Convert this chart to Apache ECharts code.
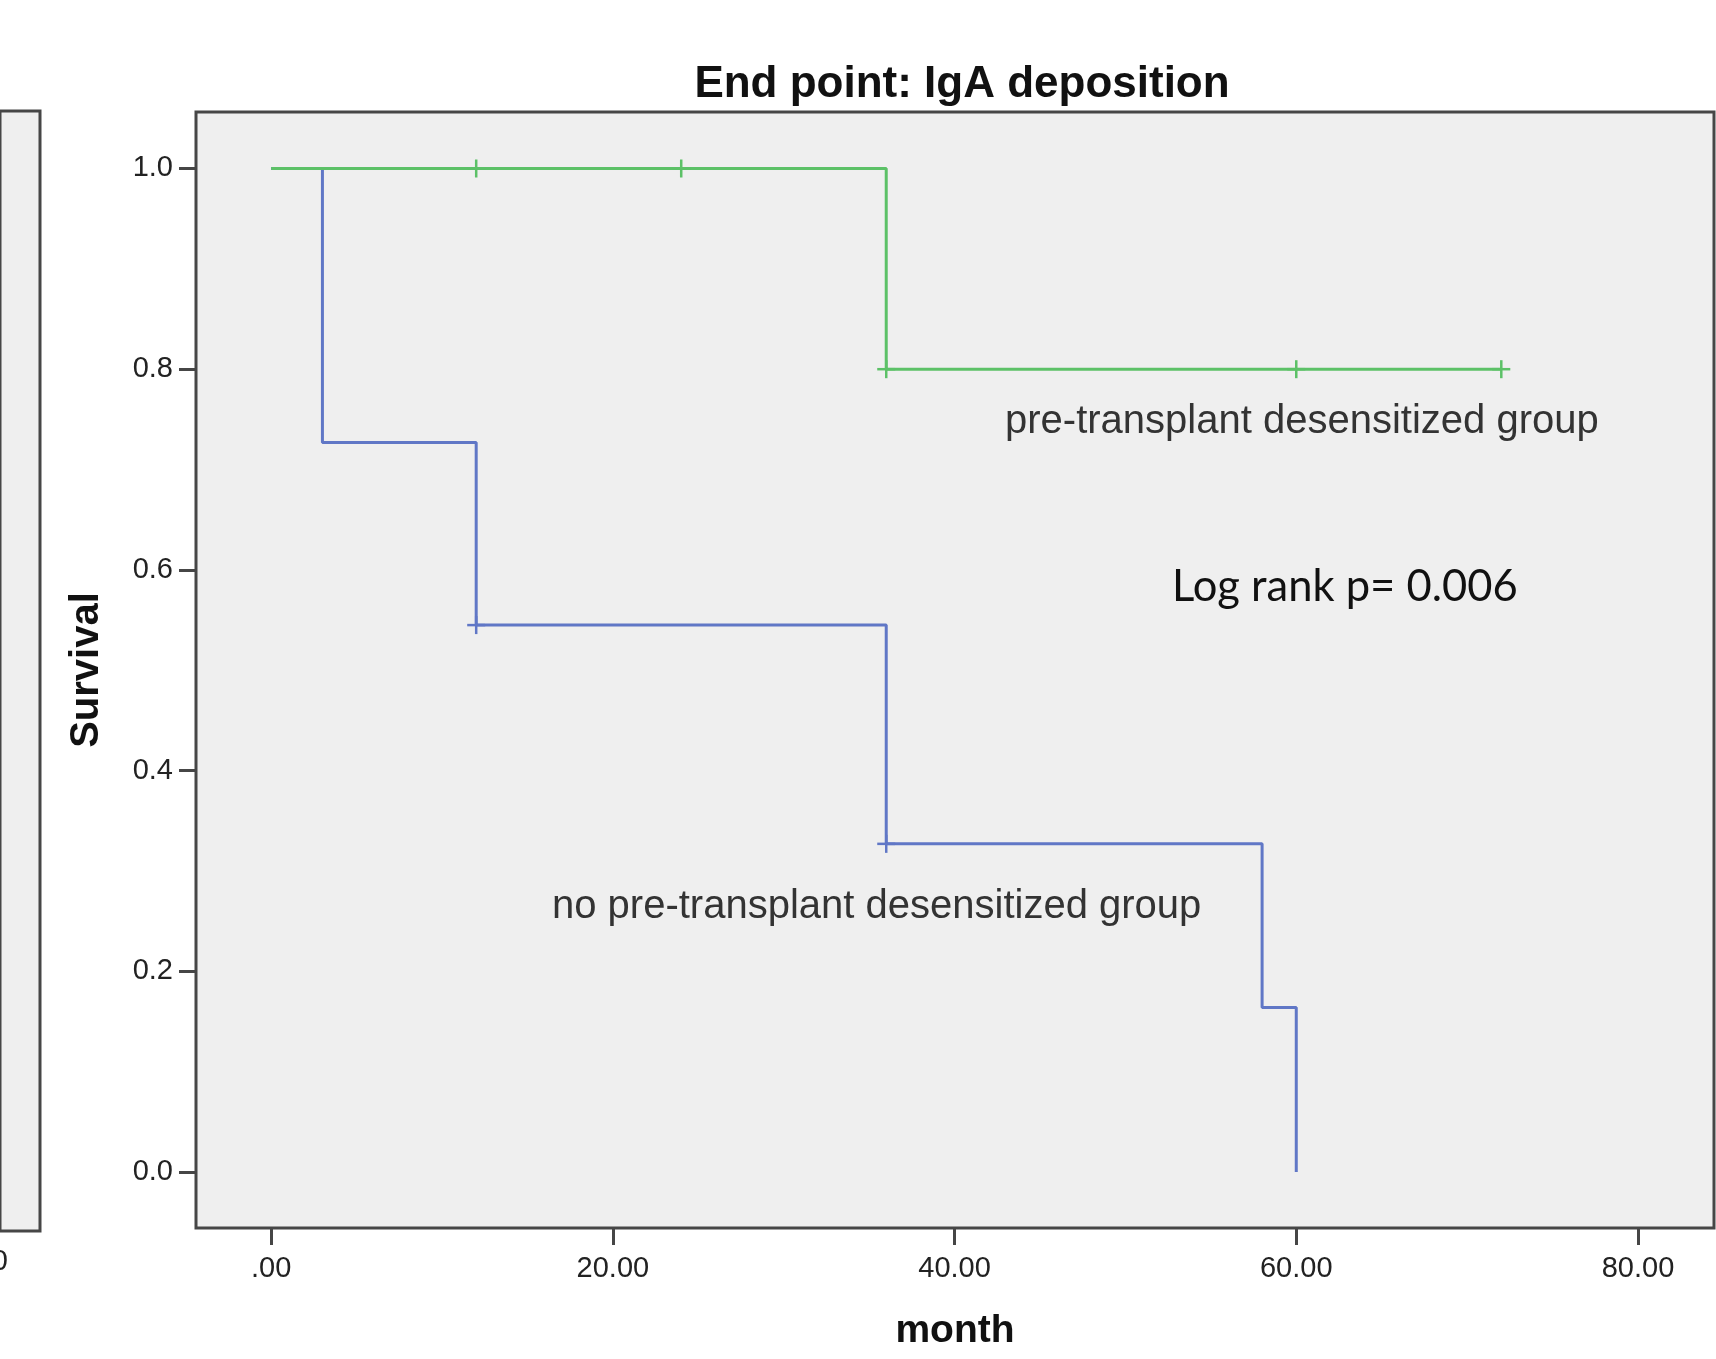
<!DOCTYPE html>
<html>
<head>
<meta charset="utf-8">
<title>End point: IgA deposition</title>
<script src="https://cdn.jsdelivr.net/npm/echarts@6/dist/echarts.min.js"></script>
<style>
    html, body { margin: 0; padding: 0; background: #fff; }
    #main { width: 1716px; height: 1359px; }
</style>
</head>
<body>
<div id="main"></div>
<script>
// Kaplan-Meier steps
var desensTimes = [0, 36, 72];
var desensSurv = [1.0, 0.8, 0.8];
var noDesensTimes = [0, 3, 12, 36, 58, 60];
var noDesensSurv = [1.0, 0.727, 0.545, 0.327, 0.164, 0.0];

// censored cases (the little + marks)
var desensCensorTimes = [12, 24, 36, 60, 72];
var desensCensorSurv = [1.0, 1.0, 0.8, 0.8, 0.8];
var noDesensCensorTimes = [12, 36];
var noDesensCensorSurv = [0.545, 0.327];

var xTicks = [0, 20, 40, 60, 80];
var yTicks = [0, 0.2, 0.4, 0.6, 0.8, 1.0];

var green = '#5cc167';
var blue = '#6077c6';
var frame = '#464646';

function zip(a, b) {
    var out = [];
    for (var i = 0; i < a.length; i++) out.push([a[i], b[i]]);
    return out;
}

function censorMarks(color) {
    return function (params, api) {
        var p = api.coord([api.value(0), api.value(1)]);
        var h = 9;
        return {
            type: 'group',
            children: [
                {type: 'line', shape: {x1: p[0], y1: p[1] - h, x2: p[0], y2: p[1] + h},
                    style: {stroke: color, lineWidth: 2.5}},
                {type: 'line', shape: {x1: p[0] - h, y1: p[1], x2: p[0] + h, y2: p[1]},
                    style: {stroke: color, lineWidth: 2.5}}
            ]
        };
    };
}

var myChart = echarts.init(document.getElementById('main'));
var option = {
    backgroundColor: '#ffffff',
    animation: false,
    title: {
        text: 'End point: IgA deposition',
        left: 957,
        top: 57,
        textAlign: 'center',
        textStyle: {
            fontFamily: 'Liberation Sans',
            fontWeight: 'bold',
            fontSize: 44,
            lineHeight: 46,
            color: '#111'
        }
    },
    grid: [
        {
            left: 196, top: 112, right: 2, bottom: 131,
            show: true,
            backgroundColor: '#efefef',
            borderColor: frame,
            borderWidth: 3
        },
        {
            // edge of the neighbouring panel, cut off by the picture
            left: -100, top: 111, width: 140, height: 1120,
            show: true,
            backgroundColor: '#efefef',
            borderColor: frame,
            borderWidth: 3
        }
    ],
    xAxis: [
        {
            type: 'value',
            gridIndex: 0,
            min: -4.4,
            max: 84.45,
            name: 'month',
            nameLocation: 'middle',
            nameGap: 84,
            nameTextStyle: {
                fontFamily: 'Liberation Sans',
                fontWeight: 'bold',
                fontSize: 39,
                color: '#111'
            },
            splitLine: {show: false},
            axisLine: {show: false, onZero: false},
            axisTick: {
                show: true,
                length: 17,
                customValues: xTicks,
                lineStyle: {color: frame, width: 3}
            },
            axisLabel: {
                customValues: xTicks,
                margin: 26,
                fontFamily: 'Liberation Sans',
                fontSize: 29,
                color: '#222',
                formatter: function (v) {
                    return v === 0 ? '.00' : v.toFixed(2);
                }
            }
        },
        {
            type: 'value', gridIndex: 1, show: false
        }
    ],
    yAxis: [
        {
            type: 'value',
            gridIndex: 0,
            min: -0.0558,
            max: 1.0563,
            name: 'Survival',
            nameLocation: 'middle',
            nameGap: 89,
            nameTextStyle: {
                fontFamily: 'Liberation Sans',
                fontWeight: 'bold',
                fontSize: 40,
                color: '#111'
            },
            splitLine: {show: false},
            axisLine: {show: false, onZero: false},
            axisTick: {
                show: true,
                length: 17,
                customValues: yTicks,
                lineStyle: {color: frame, width: 3}
            },
            axisLabel: {
                customValues: yTicks,
                margin: 23,
                fontFamily: 'Liberation Sans',
                fontSize: 29,
                color: '#222',
                formatter: function (v) {
                    return v.toFixed(1);
                }
            }
        },
        {
            type: 'value', gridIndex: 1, show: false
        }
    ],
    graphic: [
        {
            type: 'text',
            left: 1005, top: 402,
            style: {
                text: 'pre-transplant desensitized group',
                font: '40px "Liberation Sans"',
                fill: '#333'
            }
        },
        {
            type: 'text',
            left: 552, top: 887,
            style: {
                text: 'no pre-transplant desensitized group',
                font: '40px "Liberation Sans"',
                fill: '#333'
            }
        },
        {
            type: 'text',
            left: 1172, top: 565,
            style: {
                text: 'Log rank p= 0.006',
                font: '43.5px Lato',
                fill: '#111'
            }
        },
        {
            type: 'text',
            x: 8, y: 1262,
            style: {
                text: '80.00',
                font: '29px "Liberation Sans"',
                fill: '#222',
                align: 'right',
                verticalAlign: 'middle'
            }
        }
    ],
    series: [
        {
            name: 'no pre-transplant desensitized group',
            type: 'line',
            step: 'end',
            showSymbol: false,
            lineStyle: {color: blue, width: 3},
            data: zip(noDesensTimes, noDesensSurv),
            z: 2
        },
        {
            name: 'pre-transplant desensitized group',
            type: 'line',
            step: 'end',
            showSymbol: false,
            lineStyle: {color: green, width: 3},
            data: zip(desensTimes, desensSurv),
            z: 3
        },
        {
            type: 'custom',
            renderItem: censorMarks(blue),
            data: zip(noDesensCensorTimes, noDesensCensorSurv),
            z: 4
        },
        {
            type: 'custom',
            renderItem: censorMarks(green),
            data: zip(desensCensorTimes, desensCensorSurv),
            z: 5
        }
    ]
};
myChart.setOption(option);
</script>
</body>
</html>
